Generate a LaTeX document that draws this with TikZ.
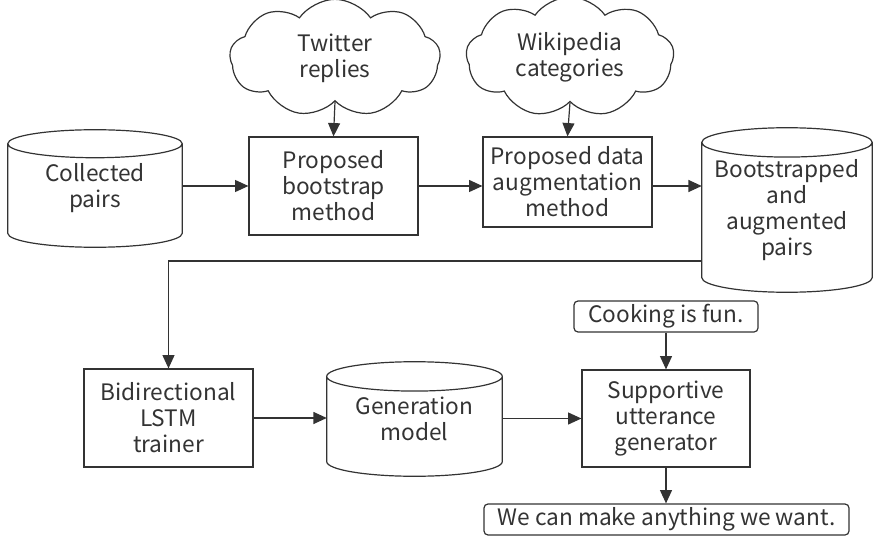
\documentclass[tikz,border=0pt]{standalone}
\usepackage{fontspec}
\setmainfont{Noto Sans CJK JP}
\usetikzlibrary{shapes.symbols,arrows.meta,calc}
\definecolor{ink}{HTML}{333333}
\newcommand\drawcyl[2]{%
  \draw[cylline] let \p1=(#1.north west), \p2=(#1.south east), \n1={(\x2-\x1)/2} in
    ([yshift=-#2]#1.north west) -- ([yshift=#2]#1.south west)
    arc[start angle=180,end angle=360,x radius=\n1,y radius=#2]
    -- ([yshift=-#2]#1.north east)
    arc[start angle=0,end angle=360,x radius=\n1,y radius=#2];}
\begin{document}
\begin{tikzpicture}[x=0.75pt,y=-0.75pt,
  every node/.style={font=\fontsize{17}{19.5}\selectfont, text=ink, align=center, inner sep=0pt},
  box/.style={draw=ink, line width=0.9pt, rectangle},
  rbox/.style={draw=ink, line width=0.9pt, rectangle, rounded corners=3pt},
  cylbody/.style={rectangle},
  cylline/.style={draw=ink, line width=0.9pt},
  cloudy/.style={draw=ink, line width=0.9pt, cloud, cloud puffs=9, cloud puff arc=110, aspect=2},
  arr/.style={draw=ink, line width=0.9pt, -{Triangle[length=10pt,width=9pt]}}]
\useasboundingbox (0,0) rectangle (874,538);

\node[cylbody, minimum width=174*0.75pt, minimum height=117*0.75pt] (cp) at (95,188.5) {Collected\\pairs};
\drawcyl{cp}{10.5pt}
\node[box, minimum width=169*0.75pt, minimum height=98*0.75pt] (boot) at (333.5,186) {Proposed\\bootstrap\\method};
\node[box, minimum width=169*0.75pt, minimum height=90*0.75pt] (aug) at (567.5,182) {Proposed data\\augmentation\\method};
\node[cylbody, minimum width=170*0.75pt, minimum height=164*0.75pt] (bsa) at (787,210) {Bootstrapped\\and\\augmented\\pairs};
\drawcyl{bsa}{11pt}
\node[cloudy, minimum width=158pt, minimum height=88pt] (tw) at (335,58) {Twitter\\replies};
\node[cloudy, minimum width=156pt, minimum height=90pt] (wk) at (570,57) {Wikipedia\\categories};

\node[box, minimum width=169*0.75pt, minimum height=98*0.75pt] (lstm) at (168.5,418) {Bidirectional\\LSTM\\trainer};
\node[cylbody, minimum width=175*0.75pt, minimum height=114*0.75pt] (gen) at (414.5,419) {Generation\\model};
\drawcyl{gen}{11pt}
\node[box, minimum width=168*0.75pt, minimum height=97*0.75pt] (sup) at (666,418.5) {Supportive\\utterance\\generator};
\node[rbox, minimum width=184*0.75pt, minimum height=31*0.75pt] (cook) at (666,316.5) {Cooking is fun.};
\node[rbox, minimum width=365*0.75pt, minimum height=31*0.75pt] (want) at (666.5,519.5) {We can make anything we want.};

\draw[arr] (cp.east |- boot.east) -- (boot.west);
\draw[arr] (boot.east) -- (boot.east -| aug.west);
\draw[arr] (aug.east |- boot.east) -- (boot.east -| bsa.west);
\draw[arr] (tw.south) -- (boot.north);
\draw[arr] (wk.south) -- (aug.north);
\draw[arr] ([yshift=-38.25pt]bsa.west) -| (lstm.north);
\draw[arr] (lstm.east) -- (lstm.east -| gen.west);
\draw[arr] (gen.east |- sup.west) -- (sup.west);
\draw[arr] (cook.south) -- (sup.north);
\draw[arr] (sup.south) -- (sup.south |- want.north);
\end{tikzpicture}
\end{document}
